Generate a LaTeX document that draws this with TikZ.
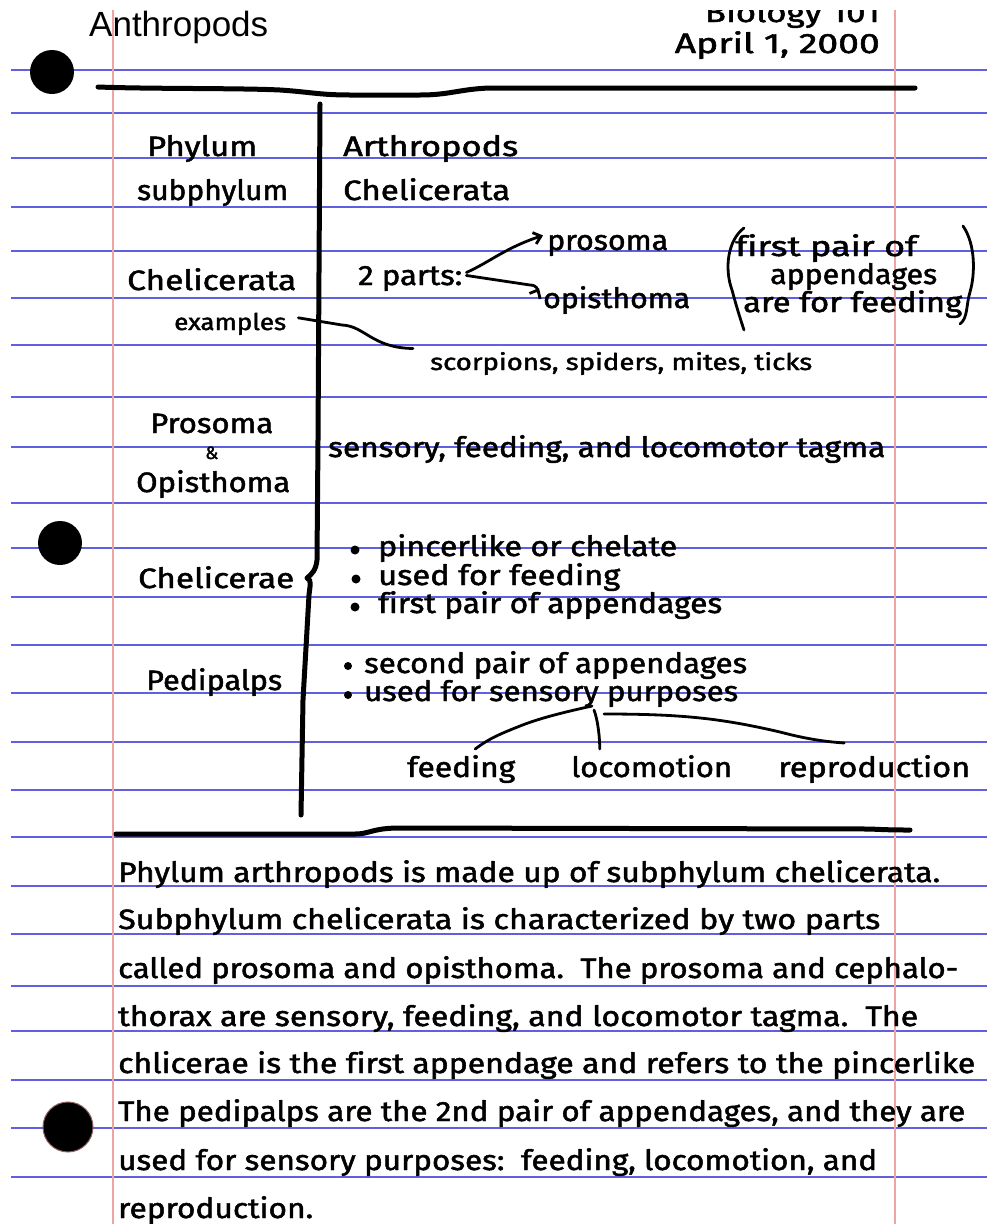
\documentclass[tikz,border=0pt]{standalone}
\usepackage{fontspec}
\setmainfont{Fira Sans}[FakeBold=1.6, Ligatures=NoCommon]
\newfontfamily\arialfont{Liberation Sans}
\usetikzlibrary{calc,arrows.meta}
\definecolor{rule}{RGB}{95,95,225}
\definecolor{margin}{RGB}{235,165,165}
% squeeze or stretch a text horizontally to a given width (in pt), keeping its height
\newcommand{\fitto}[2]{\resizebox{#1pt}{\height}{#2}}

\begin{document}
\begin{tikzpicture}[x=1pt,y=-1pt,
  hand/.style={inner sep=0pt, anchor=base west, font=\fontsize{28}{32}\selectfont},
  smallhand/.style={inner sep=0pt, anchor=base west, font=\fontsize{23}{27}\selectfont},
  ruling/.style={draw=rule, line width=2.4pt},
  marginline/.style={draw=margin, line width=2pt},
  ink/.style={line width=5pt, line cap=round, line join=round},
  pen/.style={line width=2.8pt, line cap=round, line join=round},
  hole/.style={circle, fill=black, inner sep=0pt, minimum size=44pt},
  dot/.style={circle, fill=black, inner sep=0pt, minimum size=9pt}]

\useasboundingbox (0,0) rectangle (987,1224);
\fill[white] (0,0) rectangle (987,1224);

% ruled paper
\foreach \y in {70,113,158,207,251,298,345,397,447,503,548,597,645,693,742,790,837,886,934,986,1031,1080,1128,1177}
  \draw[ruling] (11,\y) -- (987,\y);
\draw[marginline] (113,10) -- (113,1224);
\draw[marginline] (895,10) -- (895,1224);

% binder holes
\node[hole] (hole1) at (52,72) {};
\node[hole] (hole2) at (60,543) {};
\node[hole, minimum size=50pt, draw=margin!60!black, line width=1pt] (hole3) at (68,1127) {};

% heading
\node[inner sep=0pt, anchor=base west, font=\arialfont\fontsize{35}{40}\selectfont] (title) at (89,36) {Anthropods};
\begin{scope}
  \clip (600,10) rectangle (900,60);
  \node[hand, anchor=base east] (course) at (880,22) {\fitto{175}{Biology 101}};
\end{scope}
\node[hand, anchor=base east] (date) at (880,53) {\fitto{205}{April 1, 2000}};

% frame strokes
\draw[ink] (98,87) .. controls (150,89) and (240,88) .. (280,90)
  .. controls (310,92) and (320,95) .. (350,95)
  -- (420,95) .. controls (450,95) and (460,89) .. (490,88) -- (915,88);
\draw[ink] (320,104) -- (318,440) -- (317,560)
  .. controls (316,570) and (312,574) .. (307,578)
  .. controls (312,580) and (310,585) .. (309,595)
  -- (303,700) -- (301,815);
\draw[ink] (116,834) -- (355,834) .. controls (370,834) and (372,828) .. (400,828)
  -- (870,829) .. controls (890,830) and (900,830) .. (910,830);

% left column
\node[hand] (phylum) at (147,156) {\fitto{110}{Phylum}};
\node[hand] (subphylum) at (137,200) {\fitto{151}{subphylum}};
\node[hand] (chelicerata) at (127,290) {\fitto{169}{Chelicerata}};
\node[smallhand] (examples) at (174,330) {\fitto{112}{examples}};
\node[hand] (prosoma) at (150,433) {\fitto{123}{Prosoma}};
\node[inner sep=0pt, anchor=base west, font=\fontsize{18}{20}\selectfont] (amp) at (205,459) {\&};
\node[hand] (opisthoma) at (136,492) {\fitto{154}{Opisthoma}};
\node[hand] (chelicerae) at (138,588) {\fitto{156}{Chelicerae}};
\node[hand] (pedipalps) at (146,690) {\fitto{136}{Pedipalps}};

% right column
\node[hand] (arthropods) at (343,156) {\fitto{175}{Arthropods}};
\node[hand] (chelicerata2) at (343,200) {\fitto{167}{Chelicerata}};
\node[hand] (parts) at (358,285) {\fitto{104}{2 parts:}};
\node[hand] (pros) at (547,250) {\fitto{121}{prosoma}};
\node[hand] (opis) at (543,308) {\fitto{147}{opisthoma}};
\node[hand] (fp1) at (735,256) {\fitto{182}{first pair of}};
\node[hand] (fp2) at (770,284) {\fitto{167}{appendages}};
\node[hand] (fp3) at (743,312) {\fitto{219}{are for feeding}};
\node[smallhand] (kinds) at (430,370) {\fitto{382}{scorpions, spiders, mites, ticks}};
\node[hand] (tagma) at (328,457) {\fitto{557}{sensory, feeding, and locomotor tagma}};

\node[hand] (ch1) at (378,556) {\fitto{299}{pincerlike or chelate}};
\node[hand] (ch2) at (378,585) {\fitto{242}{used for feeding}};
\node[hand] (ch3) at (378,613) {\fitto{344}{first pair of appendages}};
\node[dot] (d1) at (355,550) {};
\node[dot] (d2) at (356,579) {};
\node[dot] (d3) at (355,607) {};

\node[hand] (pe1) at (364,673) {\fitto{383}{second pair of appendages}};
\node[hand] (pe2) at (364,701) {\fitto{374}{used for sensory purposes}};
\node[dot, minimum size=8pt] (d4) at (348,666) {};
\node[dot, minimum size=8pt] (d5) at (348,695) {};

\node[hand] (feed) at (407,777) {\fitto{108}{feeding}};
\node[hand] (loco) at (571,777) {\fitto{161}{locomotion}};
\node[hand] (repro) at (778,777) {\fitto{192}{reproduction}};

% brackets around the note
\draw[pen] (744,228) .. controls (728,240) and (724,268) .. (732,290)
  .. controls (736,305) and (740,318) .. (744,330);
\draw[pen] (963,226) .. controls (976,245) and (975,275) .. (970,292)
  .. controls (966,305) and (968,318) .. (960,324);

% arrows from "2 parts:"
\draw[pen, -{Straight Barb[length=7pt, width=12pt]}] ($(parts.east)+(4,-6)$)
  .. controls (490,262) and (505,248) .. ($(pros.west)+(-4,-10)$);
\draw[pen, -{Straight Barb[length=7pt, width=12pt]}] ($(parts.east)+(4,-3)$)
  -- (530,285) .. controls (537,285) and (538,290) .. ($(opis.west)+(-4,-12)$);

% examples pointer
\draw[pen] ($(examples.east)+(12,-6)$) -- (342,325)
  .. controls (365,326) and (372,348) .. ($(kinds.west)+(-17,-15)$);

% uses of the pedipalps
\coordinate (fork) at (592,706);
\draw[pen] (fork) .. controls (565,712) and (540,718) .. (520,726)
  .. controls (500,734) and (490,738) .. ($(feed.north)+(14,-6)$);
\draw[pen] ($(fork)+(2,4)$) .. controls (598,720) and (600,740) .. ($(loco.north)+(-52,-6)$);
\draw[pen] ($(fork)+(12,8)$) .. controls (680,714) and (720,718) .. (780,732)
  .. controls (810,740) and (830,742) .. ($(repro.north)+(-30,-12)$);

% summary paragraph
\node[hand] (p1) at (118,882) {\fitto{822}{Phylum arthropods is made up of subphylum chelicerata.}};
\node[hand] (p2) at (118,929) {\fitto{762}{Subphylum chelicerata is characterized by two parts}};
\node[hand] (p3) at (118,978) {\fitto{840}{called prosoma and opisthoma.\ \ The prosoma and cephalo-}};
\node[hand] (p4) at (118,1026) {\fitto{800}{thorax are sensory, feeding, and locomotor tagma.\ \ The}};
\node[hand] (p5) at (118,1073) {\fitto{857}{chlicerae is the first appendage and refers to the pincerlike}};
\node[hand] (p6) at (118,1121) {\fitto{847}{The pedipalps are the 2nd pair of appendages, and they are}};
\node[hand] (p7) at (118,1170) {\fitto{759}{used for sensory purposes:\ \ feeding, locomotion, and}};
\node[hand] (p8) at (118,1218) {\fitto{195}{reproduction.}};
\end{tikzpicture}
\end{document}
